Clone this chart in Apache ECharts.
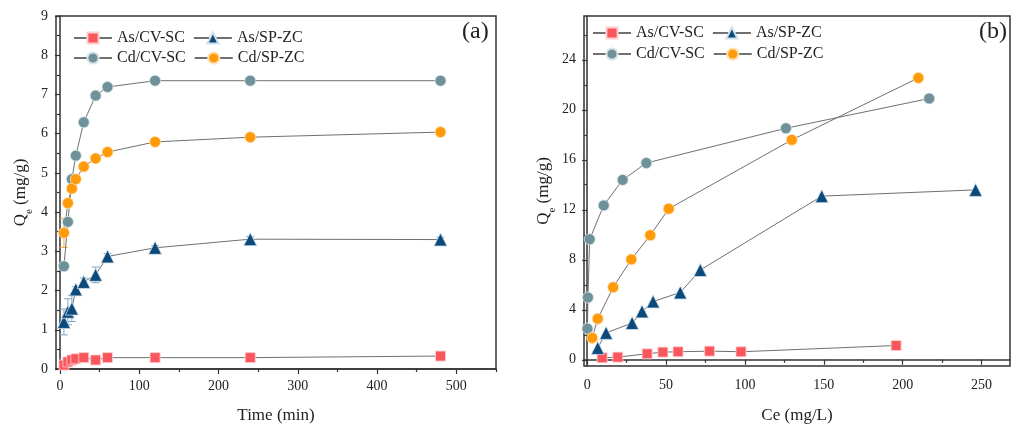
<!DOCTYPE html>
<html><head><meta charset="utf-8">
<script src="https://cdn.jsdelivr.net/npm/echarts@6/dist/echarts.min.js"></script>
<style>html,body{margin:0;padding:0;background:#fff}#c{width:1012px;height:429px}</style>
</head><body><div id="c"></div>
<script>
// ---- Panel (a): kinetics ----
const timeMin = [5, 10, 15, 20, 30, 45, 60, 120, 240, 480];
const asCvTime = [0.10, 0.18, 0.23, 0.26, 0.29, 0.23, 0.29, 0.29, 0.29, 0.33];
const asSpTime = [1.20, 1.46, 1.54, 2.03, 2.22, 2.40, 2.87, 3.09, 3.31, 3.30];
const asSpTimeErr = [0.33, 0.33, 0.33, 0.07, 0.10, 0.20, 0.07, 0.05, 0.07, 0.06];
const cdCvTime = [2.62, 3.75, 4.84, 5.44, 6.29, 6.97, 7.19, 7.35, 7.35, 7.35];
const cdSpTime = [3.47, 4.23, 4.60, 4.84, 5.16, 5.37, 5.53, 5.79, 5.91, 6.04];
const cdSpTimeErr = [0.37, 0.05, 0.05, 0.04, 0.04, 0.04, 0.04, 0.05, 0.05, 0.05];
const xTicksA = [0, 100, 200, 300, 400, 500];
const xMinorA = [50, 150, 250, 350, 450, 550];

// ---- Panel (b): isotherms ----
const asCvCe = [9.5, 19.4, 38, 48, 57.6, 77.6, 97.5, 195.8];
const asCvQe = [0.16, 0.21, 0.48, 0.61, 0.64, 0.69, 0.64, 1.14];
const asSpCe = [6.7, 12, 28.5, 34.8, 41.8, 59, 71.7, 148.7, 246.2];
const asSpQe = [0.95, 2.15, 2.94, 3.87, 4.66, 5.38, 7.18, 13.09, 13.59];
const cdCvCe = [0.2, 0.5, 1.6, 10.5, 22.5, 37.5, 126, 216.8];
const cdCvQe = [2.49, 4.98, 9.64, 12.35, 14.39, 15.74, 18.52, 20.9];
const cdSpCe = [3.2, 6.7, 16.5, 28, 40, 51.7, 129.7, 209.9];
const cdSpQe = [1.75, 3.28, 5.80, 8.03, 9.96, 12.08, 17.59, 22.55];
const xTicksB = [0, 50, 100, 150, 200, 250];
const xMinorB = [25, 75, 125, 175, 225];
const yTicksB = [0, 4, 8, 12, 16, 20, 24];
const yMinorB = [2, 6, 10, 14, 18, 22, 26];

const FONT = 'Liberation Serif';
const AX = '#333';
const LINE = '#707070';
const styles = {
  'As/CV-SC': {symbol: 'rect', size: 10, color: '#f9575d', border: '#ffd0d2'},
  'As/SP-ZC': {symbol: 'triangle', size: 13, color: '#0b4a7a', border: '#cfe0ee'},
  'Cd/CV-SC': {symbol: 'circle', size: 11, color: '#6f919a', border: '#d8e4e6'},
  'Cd/SP-ZC': {symbol: 'circle', size: 11, color: '#ff9a0a', border: '#ffe0b0'}
};

function zip(a, b) { return a.map((v, i) => [v, b[i]]); }
function lineSeries(name, xs, ys, xi, yi) {
  const s = styles[name];
  return {
    name, type: 'line', xAxisIndex: xi, yAxisIndex: yi, data: zip(xs, ys),
    symbol: s.symbol, symbolSize: s.size, showSymbol: true,
    lineStyle: {color: LINE, width: 1},
    itemStyle: {color: s.color, borderColor: s.border, borderWidth: 0.8},
    emphasis: {disabled: true}, animation: false, z: 3
  };
}
function errSeries(xs, ys, es, color, xi, yi) {
  return {
    type: 'custom', xAxisIndex: xi, yAxisIndex: yi, silent: true, animation: false, z: 2,
    data: xs.map((x, i) => [x, ys[i] - es[i], ys[i] + es[i]]),
    renderItem: (params, api) => {
      const lo = api.coord([api.value(0), api.value(1)]);
      const hi = api.coord([api.value(0), api.value(2)]);
      const w = 4;
      const st = {stroke: color, lineWidth: 1};
      return {type: 'group', children: [
        {type: 'line', shape: {x1: lo[0], y1: lo[1], x2: hi[0], y2: hi[1]}, style: st},
        {type: 'line', shape: {x1: lo[0] - w, y1: lo[1], x2: lo[0] + w, y2: lo[1]}, style: st},
        {type: 'line', shape: {x1: hi[0] - w, y1: hi[1], x2: hi[0] + w, y2: hi[1]}, style: st}
      ]};
    }
  };
}

const labelStyle = {color: '#222', fontFamily: FONT, fontSize: 14};
const nameStyle = {color: '#222', fontFamily: FONT, fontSize: 17};
const yNameRich = {
  color: '#222', fontFamily: FONT, fontSize: 17,
  rich: {q: {fontFamily: FONT, fontSize: 17, color: '#222'},
         s: {fontFamily: FONT, fontSize: 11, color: '#222', verticalAlign: 'bottom', padding: [0, 0, -6, 0]}}
};

function legendRow(data, left, top) {
  return {
    data, left, top, orient: 'horizontal', itemWidth: 38, itemHeight: 14, itemGap: 8, padding: 0,
    selectedMode: false,
    textStyle: {fontFamily: FONT, fontSize: 16, color: '#222'}
  };
}

const option = {
  animation: false,
  backgroundColor: '#fff',
  grid: [
    {left: 56, top: 16, width: 440, height: 355, show: true, borderColor: AX, borderWidth: 1.5, backgroundColor: 'transparent'},
    {left: 584, top: 16, width: 426, height: 352, show: true, borderColor: AX, borderWidth: 1.5, backgroundColor: 'transparent'}
  ],
  legend: [
    legendRow(['As/CV-SC', 'As/SP-ZC'], 73, 30),
    legendRow(['Cd/CV-SC', 'Cd/SP-ZC'], 73, 50),
    legendRow(['As/CV-SC', 'As/SP-ZC'], 592, 25),
    legendRow(['Cd/CV-SC', 'Cd/SP-ZC'], 592, 46)
  ],
  graphic: [
    {type: 'text', left: 462, top: 20, style: {text: '(a)', font: '24px "Liberation Serif"', fill: '#222'}},
    {type: 'text', left: 979, top: 20, style: {text: '(b)', font: '24px "Liberation Serif"', fill: '#222'}}
  ],
  xAxis: [
    {gridIndex: 0, type: 'value', min: -5, max: 550, position: 'bottom',
     name: 'Time (min)', nameLocation: 'middle', nameGap: 38, nameTextStyle: nameStyle,
     axisLine: {show: true, lineStyle: {color: AX, width: 1.5}},
     axisTick: {show: true, customValues: xTicksA, length: 5, lineStyle: {color: AX, width: 1.2}},
     axisLabel: {customValues: xTicksA, margin: 10, ...labelStyle},
     splitLine: {show: false}},
    {gridIndex: 0, type: 'value', min: -5, max: 550, position: 'bottom',
     axisLine: {show: false}, axisLabel: {show: false},
     axisTick: {show: true, customValues: xMinorA, length: 3, lineStyle: {color: AX, width: 1.2}},
     splitLine: {show: false}},
    {gridIndex: 1, type: 'value', min: -2, max: 268, position: 'bottom',
     name: 'Ce (mg/L)', nameLocation: 'middle', nameGap: 41, nameTextStyle: nameStyle,
     axisLine: {show: true, lineStyle: {color: AX, width: 1.5}},
     axisTick: {show: true, customValues: xTicksB, length: 5, lineStyle: {color: AX, width: 1.2}},
     axisLabel: {customValues: xTicksB, margin: 12, ...labelStyle},
     splitLine: {show: false}},
    {gridIndex: 1, type: 'value', min: -2, max: 268, position: 'bottom',
     axisLine: {show: false}, axisLabel: {show: false},
     axisTick: {show: true, customValues: xMinorB, length: 3, lineStyle: {color: AX, width: 1.2}},
     splitLine: {show: false}}
  ],
  yAxis: [
    {gridIndex: 0, type: 'value', min: 0, max: 9, interval: 1, position: 'left',
     name: '{q|Q}{s|e} (mg/g)', nameLocation: 'middle', nameGap: 27, nameRotate: 90, nameTextStyle: yNameRich,
     axisLine: {show: true, lineStyle: {color: AX, width: 1.5}},
     axisTick: {show: true, length: 5, lineStyle: {color: AX, width: 1.2}},
     minorTick: {show: true, splitNumber: 2, length: 3, lineStyle: {color: AX, width: 1.2}},
     axisLabel: {margin: 8, ...labelStyle},
     splitLine: {show: false}, minorSplitLine: {show: false}},
    {gridIndex: 1, type: 'value', min: -0.5, max: 27.5, position: 'left',
     name: '{q|Q}{s|e} (mg/g)', nameLocation: 'middle', nameGap: 32, nameRotate: 90, nameTextStyle: yNameRich,
     axisLine: {show: true, lineStyle: {color: AX, width: 1.5}},
     axisTick: {show: true, customValues: yTicksB, length: 5, lineStyle: {color: AX, width: 1.2}},
     axisLabel: {customValues: yTicksB, margin: 8, ...labelStyle},
     splitLine: {show: false}},
    {gridIndex: 1, type: 'value', min: -0.5, max: 27.5, position: 'left',
     axisLine: {show: false}, axisLabel: {show: false},
     axisTick: {show: true, customValues: yMinorB, length: 3, lineStyle: {color: AX, width: 1.2}},
     splitLine: {show: false}}
  ],
  series: [
    errSeries(timeMin, asSpTime, asSpTimeErr, '#7ba7c9', 0, 0),
    errSeries(timeMin, cdSpTime, cdSpTimeErr, '#f2a540', 0, 0),
    lineSeries('As/CV-SC', timeMin, asCvTime, 0, 0),
    lineSeries('As/SP-ZC', timeMin, asSpTime, 0, 0),
    lineSeries('Cd/CV-SC', timeMin, cdCvTime, 0, 0),
    lineSeries('Cd/SP-ZC', timeMin, cdSpTime, 0, 0),
    lineSeries('As/CV-SC', asCvCe, asCvQe, 2, 1),
    lineSeries('As/SP-ZC', asSpCe, asSpQe, 2, 1),
    lineSeries('Cd/CV-SC', cdCvCe, cdCvQe, 2, 1),
    lineSeries('Cd/SP-ZC', cdSpCe, cdSpQe, 2, 1)
  ]
};
const chart = echarts.init(document.getElementById('c'), null, {renderer: 'canvas'});
chart.setOption(option);
</script>
</body></html>
